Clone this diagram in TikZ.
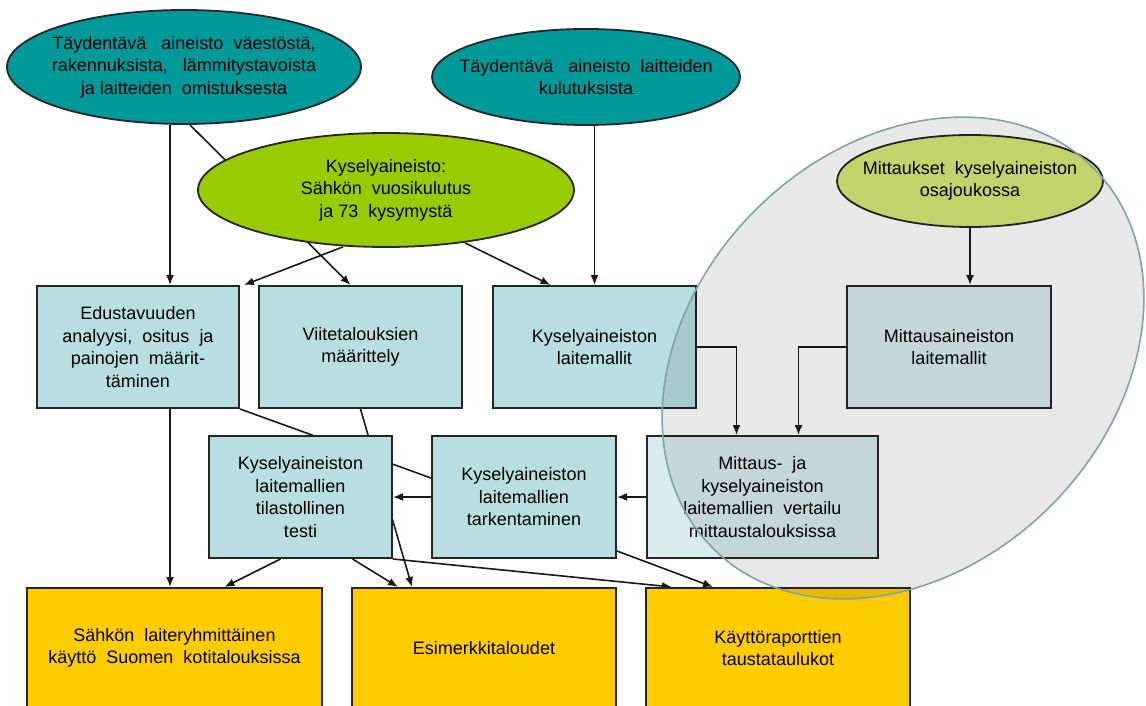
\documentclass[tikz,border=0pt]{standalone}
\usepackage{fontspec}
\setsansfont{Liberation Sans}
\usetikzlibrary{arrows.meta}
\usetikzlibrary{shapes}
\usetikzlibrary{backgrounds}
\definecolor{sourceTeal}{RGB}{0,153,153}
\definecolor{surveyGreen}{RGB}{153,204,0}
\definecolor{sampleGreen}{RGB}{214,232,118}
\definecolor{stepBlue}{RGB}{185,222,226}
\definecolor{meterBlue}{RGB}{216,236,239}
\definecolor{resultGold}{RGB}{255,204,0}
\definecolor{rimGray}{RGB}{125,165,165}

\begin{document}
\begin{tikzpicture}[x = 1pt, y = -1pt, font=\sffamily\fontsize{18}{22.5}\selectfont]
\tikzstyle{sourceStyle}=[shape = ellipse, draw = black!85, line width = 1.8pt, fill = sourceTeal, align = center, inner xsep = -20pt, inner ysep = 0pt]
\tikzstyle{surveyStyle}=[sourceStyle, fill = surveyGreen]
\tikzstyle{sampleStyle}=[sourceStyle, fill = sampleGreen]
\tikzstyle{stepStyle}=[shape = rectangle, draw = black!85, line width = 2pt, fill = stepBlue, align = center, minimum height = 122pt]
\tikzstyle{meterStyle}=[stepStyle, fill = meterBlue]
\tikzstyle{resultStyle}=[stepStyle, fill = resultGold, minimum height = 120pt]
\tikzstyle{groupStyle}=[shape = ellipse, draw = rimGray, line width = 1.6pt, fill = black, fill opacity = 0.09]
\tikzstyle{EdgeStyle}=[line width = 1.6pt, black!90, -{Latex[length = 10pt, width = 8pt]}]
\tikzstyle{plainEdgeStyle}=[line width = 1.6pt, black!90]
\useasboundingbox (0, 0) rectangle (1146, 706);
\clip (0, 0) rectangle (1146, 706);
\node[sourceStyle, minimum width = 354pt, minimum height = 114pt] (v0) at (184, 67) {Täydentävä\ \ \ aineisto\ \ väestöstä,\\rakennuksista,\ \ \ lämmitystavoista\\ja laitteiden\ \ omistuksesta};
\node[sourceStyle, minimum width = 308pt, minimum height = 96pt] (v1) at (586, 77) {Täydentävä\ \ \ aineisto\ \ laitteiden\\kulutuksista};
\node[surveyStyle, minimum width = 376pt, minimum height = 114pt] (v2) at (386, 190) {Kyselyaineisto:\\Sähkön\ \ vuosikulutus\\ja 73\ \ kysymystä};
\node[sampleStyle, minimum width = 266pt, minimum height = 92pt] (v3) at (970, 181) {Mittaukset\ \ kyselyaineiston\\osajoukossa};
\node[stepStyle, minimum width = 202pt] (v4) at (138, 347) {Edustavuuden\\analyysi,\ \ ositus\ \ ja\\painojen\ \ määrit-\\täminen};
\node[stepStyle, minimum width = 203pt] (v5) at (360.5, 347) {Viitetalouksien\\määrittely};
\node[stepStyle, minimum width = 203pt] (v6) at (594.5, 347) {Kyselyaineiston\\laitemallit};
\node[meterStyle, minimum width = 204pt] (v7) at (949, 347) {Mittausaineiston\\laitemallit};
\node[stepStyle, minimum width = 183pt] (v8) at (300.5, 497) {Kyselyaineiston\\laitemallien\\tilastollinen\\testi};
\node[stepStyle, minimum width = 184pt] (v9) at (524, 497) {Kyselyaineiston\\laitemallien\\tarkentaminen};
\node[meterStyle, minimum width = 231pt] (v10) at (762.5, 497) {Mittaus-\ \ ja\\kyselyaineiston\\laitemallien\ \ vertailu\\mittaustalouksissa};
\node[resultStyle, minimum width = 295pt] (v11) at (174.5, 648) {Sähkön\ \ laiteryhmittäinen\\käyttö\ \ Suomen\ \ kotitalouksissa};
\node[resultStyle, minimum width = 264pt] (v12) at (484, 648) {Esimerkkitaloudet};
\node[resultStyle, minimum width = 264pt] (v13) at (778, 648) {Käyttöraporttien\\taustataulukot};
\node[groupStyle, minimum width = 538pt, minimum height = 418pt, rotate = 45] (v14) at (903, 358) {};
\begin{scope}[on background layer]
\draw[EdgeStyle] ([xshift = 32pt]v4.north |- v0.south) -- ([xshift = 32pt]v4.north);
\draw[EdgeStyle] ([xshift = 6pt]v0.south) -- ([xshift = -10pt]v5.north);
\draw[EdgeStyle] ([xshift = -43pt, yshift = 1pt]v2.south) -- ([xshift = 4pt]v4.north east);
\draw[EdgeStyle] ([xshift = 79pt, yshift = 5pt]v2.south) -- ([xshift = -44pt]v6.north);
\draw[EdgeStyle] (v1.south -| v6.north) -- (v6.north);
\draw[EdgeStyle] (v3.south) -- (v3.south |- v7.north);
\draw[EdgeStyle] (v6.east) -| ([xshift = -26pt]v10.north);
\draw[EdgeStyle] (v7.west) -| ([xshift = 36pt]v10.north);
\draw[EdgeStyle] (v10.west) -- (v9.east);
\draw[EdgeStyle] (v9.west) -- (v8.east);
\draw[EdgeStyle] ([xshift = 32pt]v4.south) -- ([xshift = 32pt]v4.south |- v11.north);
\draw[plainEdgeStyle] (v4.south east) -- ([yshift = 19pt]v9.west);
\draw[EdgeStyle] (v5.south) -- ([xshift = -72pt]v12.north);
\draw[EdgeStyle] ([xshift = -20pt]v8.south) -- ([xshift = 50pt]v11.north);
\draw[EdgeStyle] ([xshift = 52pt]v8.south) -- ([xshift = -86pt]v12.north);
\draw[EdgeStyle] (v8.south east) -- ([xshift = -106pt]v13.north);
\draw[EdgeStyle] ([yshift = 8pt]v9.south east) -- ([xshift = -65pt]v13.north);
\end{scope}
\end{tikzpicture}
\end{document}
